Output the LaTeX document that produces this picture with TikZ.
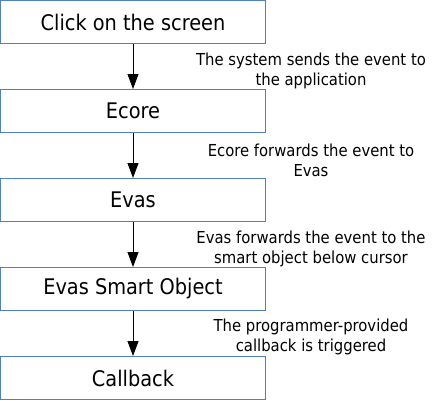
\documentclass[tikz,border=0pt]{standalone}
\usepackage{fontspec}
\setmainfont{DejaVu Sans Condensed}
\usetikzlibrary{arrows.meta}
\definecolor{boxblue}{RGB}{79,129,189}
\tikzset{
  stepbox/.style={draw=boxblue, line width=1pt, minimum width=265pt, minimum height=43pt, inner sep=0pt, font=\fontsize{21.5pt}{24pt}\selectfont},
  flowlabel/.style={align=center, inner sep=0pt, font=\fontsize{16.5pt}{20pt}\selectfont},
  flowarrow/.style={draw=black, line width=0.9pt, -{Triangle[length=15pt,width=11pt]}}
}
\begin{document}
\begin{tikzpicture}[x=1pt,y=-1pt]
\useasboundingbox (0,0) rectangle (444,400);
\node[stepbox] (b1) at (133,22) {Click on the screen};
\node[stepbox] (b2) at (133,111) {Ecore};
\node[stepbox] (b3) at (133,200) {Evas};
\node[stepbox] (b4) at (133,289) {Evas Smart Object};
\node[stepbox] (b5) at (133,378) {Callback};
\draw[flowarrow] (b1) -- (b2);
\draw[flowarrow] (b2) -- (b3);
\draw[flowarrow] (b3) -- (b4);
\draw[flowarrow] (b4) -- (b5);
\node[flowlabel] (l1) at (311,71) {The system sends the event to\\the application};
\node[flowlabel] (l2) at (311,160) {Ecore forwards the event to\\Evas};
\node[flowlabel] (l3) at (311,249) {Evas forwards the event to the\\smart object below cursor};
\node[flowlabel] (l4) at (311,337) {The programmer-provided\\callback is triggered};
\end{tikzpicture}
\end{document}
